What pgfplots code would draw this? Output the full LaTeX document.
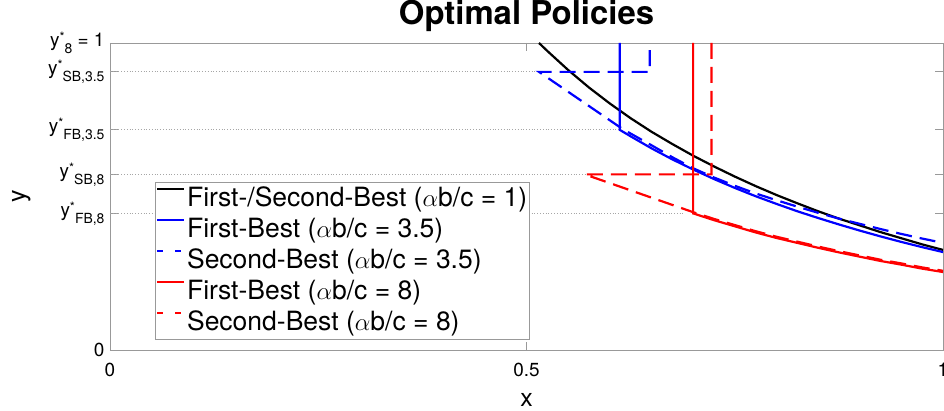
\documentclass[border=0pt]{standalone}
\usepackage{pgfplots}
\pgfplotsset{compat=1.18}
\usepackage{fontspec}
\setmainfont{TeX Gyre Heros}

% y* with a MATLAB-style low subscript
\newcommand{\ylab}[1]{y\raisebox{5bp}{\fontsize{13}{13}\selectfont *}\raisebox{-7bp}{\fontsize{14}{14}\selectfont #1}}

\begin{document}
\begin{tikzpicture}
\begin{axis}[
    name=ax,
    scale only axis,
    width=833bp, height=307bp,
    xmin=0, xmax=1, ymin=0, ymax=1,
    axis line style={black!40, line width=0.8bp},
    tick style={black!40, line width=0.8bp},
    tick align=inside,
    major tick length=8bp,
    xtick={0,0.5,1}, xticklabels={0,0.5,1},
    ytick={0,0.445,0.572,0.717,0.906,1},
    yticklabels={0,{\ylab{FB,8}},{\ylab{SB,8}},{\ylab{FB,3.5}},{\ylab{SB,3.5}},{\ylab{8} = 1}},
    ticklabel style={font=\fontsize{19}{21}\selectfont, text=black},
    xticklabel style={yshift=-10bp},
    yticklabel style={xshift=-2bp},
    xlabel={x}, ylabel={y},
    label style={font=\fontsize{25}{28}\selectfont},
    xlabel style={at={(axis description cs:0.5,-0.185)}, anchor=base},
    ylabel style={at={(axis description cs:-0.102,0.5)}, anchor=base},
    title={Optimal Policies},
    title style={font=\fontsize{33}{36}\selectfont\bfseries, at={(axis description cs:0.5,1.042)}, anchor=base},
    legend style={at={(axis description cs:0.054,0.547)}, anchor=north west,
        draw=black!40, line width=0.8bp, fill=white,
        font=\fontsize{26.6}{31}\selectfont,
        inner xsep=1bp, inner ysep=1bp, row sep=0pt,
        nodes={inner xsep=1.5bp, inner ysep=0pt, text height=23bp, text depth=8bp}},
    legend cell align=left,
    legend image code/.code={\draw[#1] (0bp,10bp) -- (27bp,10bp);},
]
% dotted reference lines
\addplot[black!35, dotted, line width=0.8bp, forget plot] coordinates {(0,0.906) (0.515,0.906)};
\addplot[black!35, dotted, line width=0.8bp, forget plot] coordinates {(0,0.717) (0.612,0.717)};
\addplot[black!35, dotted, line width=0.8bp, forget plot] coordinates {(0,0.572) (0.570,0.572)};
\addplot[black!35, dotted, line width=0.8bp, forget plot] coordinates {(0,0.445) (0.690,0.445)};

\addplot[black, line width=2.2bp] coordinates {
    (0.515,1.000) (0.525,0.974) (0.55,0.912) (0.575,0.855) (0.60,0.803) (0.625,0.755)
    (0.65,0.711) (0.675,0.671) (0.70,0.633) (0.725,0.598) (0.75,0.565) (0.775,0.534)
    (0.80,0.505) (0.825,0.478) (0.85,0.452) (0.875,0.428) (0.90,0.406) (0.925,0.384)
    (0.95,0.364) (0.975,0.344) (1.00,0.326)};
\addplot[blue, line width=2.2bp] coordinates {
    (0.612,1.000) (0.612,0.717) (0.625,0.696) (0.65,0.657) (0.675,0.621) (0.70,0.588)
    (0.725,0.557) (0.75,0.528) (0.775,0.501) (0.80,0.476) (0.825,0.452) (0.85,0.430)
    (0.875,0.409) (0.90,0.389) (0.925,0.370) (0.95,0.352) (0.975,0.335) (1.00,0.319)};
\addplot[blue, line width=2.2bp, dash pattern=on 16bp off 8bp,
    legend image post style={dash pattern=on 6bp off 12bp}] coordinates {
    (0.648,0.977) (0.648,0.906) (0.515,0.906) (0.612,0.726) (0.625,0.705) (0.65,0.667)
    (0.675,0.628) (0.70,0.592) (0.725,0.562) (0.75,0.535) (0.775,0.510) (0.80,0.488)
    (0.825,0.467) (0.85,0.447) (0.875,0.428) (0.90,0.411) (0.925,0.394) (0.95,0.378)
    (0.975,0.363) (1.00,0.349)};
\addplot[red, line width=2.2bp] coordinates {
    (0.700,1.000) (0.700,0.445) (0.725,0.423) (0.75,0.403) (0.775,0.383) (0.80,0.365)
    (0.825,0.349) (0.85,0.333) (0.875,0.318) (0.90,0.304) (0.925,0.290) (0.95,0.278)
    (0.975,0.265) (1.00,0.254)};
\addplot[red, line width=2.2bp, dash pattern=on 16bp off 8bp,
    legend image post style={dash pattern=on 6bp off 12bp}] coordinates {
    (0.722,1.000) (0.722,0.572) (0.570,0.572) (0.700,0.449) (0.725,0.427) (0.75,0.407)
    (0.775,0.387) (0.80,0.369) (0.825,0.353) (0.85,0.337) (0.875,0.322) (0.90,0.308)
    (0.925,0.294) (0.95,0.282) (0.975,0.269) (1.00,0.258)};

\legend{First-/Second-Best ($\alpha$b/c = 1),
        First-Best ($\alpha$b/c = 3.5),
        Second-Best ($\alpha$b/c = 3.5),
        First-Best ($\alpha$b/c = 8),
        Second-Best ($\alpha$b/c = 8)}
\end{axis}
\pgfresetboundingbox
\path ([shift={(-110bp,-61bp)}]ax.south west) rectangle ([shift={(1bp,43bp)}]ax.north east);
\end{tikzpicture}
\end{document}
